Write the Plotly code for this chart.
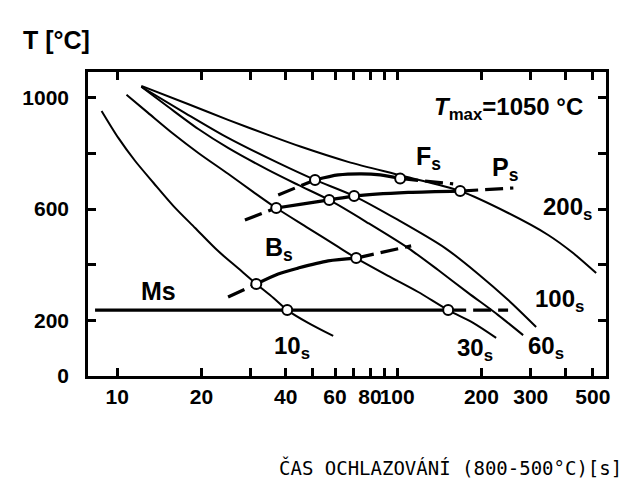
import numpy as np
import plotly.graph_objects as go

# ---- data ----
# cooling curves: time [s] (log axis) vs temperature [°C]
t_10s = [8.8, 10.1, 11.6, 13.5, 15.9, 19.0, 22.9, 27.0, 31.4, 36.1, 40.5, 48.1, 59.1]
T_10s = [953, 856, 773, 694, 611, 532, 450, 388, 331, 281, 237, 191, 144]

t_30s = [10.8, 12.9, 15.9, 19.5, 24.9, 30.6, 37.0, 48.1, 61.6, 71.4, 92.9, 118.9, 152.1, 186.8, 225.7]
T_30s = [1011, 946, 870, 802, 727, 662, 604, 532, 464, 424, 360, 302, 237, 191, 137]

t_60s = [12.2, 15.2, 19.5, 24.9, 34.6, 44.3, 57.2, 78.8, 109.5, 140.1, 179.3, 229.5, 281.8]
T_60s = [1040, 968, 888, 820, 741, 687, 633, 550, 460, 381, 299, 219, 147]

t_100s = [12.2, 17.2, 24.9, 37.6, 50.9, 70.2, 100.8, 148.4, 194.7, 249.2, 313.6]
T_100s = [1040, 950, 856, 766, 705, 647, 561, 460, 367, 273, 176]

t_200s = [12.2, 17.9, 24.9, 34.6, 45.4, 66.8, 105.1, 167.9, 249.2, 346.2, 425, 513.7]
T_200s = [1043, 978, 921, 867, 824, 770, 719, 665, 586, 507, 442, 370]

# transformation start lines
Fs_dash1_t = [37.6, 50.9];                    Fs_dash1_T = [651, 705]
Fs_t = [50.9, 61.6, 74.4, 87.0, 102.5];       Fs_T = [705, 723, 727, 723, 710]
Fs_dash2_t = [102.5, 158.5];                  Fs_dash2_T = [710, 691]

Ps_dash1_t = [28.6, 37.0];                    Ps_dash1_T = [561, 604]
Ps_t = [37.0, 45.0, 57.2, 70.2, 109.5, 167.9]; Ps_T = [604, 617, 633, 647, 660, 665]
Ps_dash2_t = [167.9, 260.0];                  Ps_dash2_T = [665, 676]

Bs_dash1_t = [24.9, 31.4];                    Bs_dash1_T = [284, 331]
Bs_t = [31.4, 37.6, 44.3, 56.7, 71.4];        Bs_T = [331, 367, 388, 414, 424]
Bs_dash2_t = [71.4, 112.2];                   Bs_dash2_T = [424, 468]

Ms_t = [8.34, 152.1];                         Ms_T = [237, 237]
Ms_dash_t = [152.1, 249.0];                   Ms_dash_T = [237, 237]

# measured intersection points (open circles)
pts_t = [50.9, 102.5, 37.0, 57.2, 70.2, 167.9, 31.4, 71.4, 40.5, 152.1]
pts_T = [705, 710, 604, 633, 647, 665, 331, 424, 237, 237]

x_tickvals = [10, 20, 30, 40, 50, 60, 70, 80, 90, 100, 200, 300, 400, 500]
x_ticktext = ["10", "20", "", "40", "", "60", "", "80", "", "100", "200", "300", "", "500"]
y_tickvals = [0, 200, 400, 600, 800, 1000]
y_ticktext = ["0", "200", "", "600", "", "1000"]

# ---- figure ----
FONT = "Liberation Sans, Arial, sans-serif"
fig = go.Figure()

def add_line(t, T, width, dash=None, spline=True):
    fig.add_trace(go.Scatter(
        x=t, y=T, mode="lines",
        line=dict(color="black", width=width, dash=dash,
                  shape="spline" if spline else "linear", smoothing=0.8),
        hoverinfo="skip", showlegend=False))

for t, T in [(t_10s, T_10s), (t_30s, T_30s), (t_60s, T_60s), (t_100s, T_100s), (t_200s, T_200s)]:
    add_line(t, T, 2)

DASH = "18px,7px"
add_line(Fs_dash1_t, Fs_dash1_T, 3.2, DASH, False)
add_line(Fs_t, Fs_T, 3.2)
add_line(Fs_dash2_t, Fs_dash2_T, 3.2, DASH, False)
add_line(Ps_dash1_t, Ps_dash1_T, 3.2, DASH, False)
add_line(Ps_t, Ps_T, 3.2)
add_line(Ps_dash2_t, Ps_dash2_T, 3.2, DASH, False)
add_line(Bs_dash1_t, Bs_dash1_T, 3.2, DASH, False)
add_line(Bs_t, Bs_T, 3.2)
add_line(Bs_dash2_t, Bs_dash2_T, 3.2, DASH, False)
add_line(Ms_t, Ms_T, 3.2, None, False)
add_line(Ms_dash_t, Ms_dash_T, 3.2, DASH, False)

fig.add_trace(go.Scatter(
    x=pts_t, y=pts_T, mode="markers",
    marker=dict(symbol="circle", size=10, color="white", line=dict(color="black", width=2)),
    hoverinfo="skip", showlegend=False))

def lab(text, t, T, size=24, **kw):
    fig.add_annotation(x=np.log10(t), y=T, xref="x", yref="y", text=text, showarrow=False,
                       font=dict(family=FONT, size=size, color="black", weight="bold"), **kw)

lab("F<sub>s</sub>", 129, 784, size=25)
lab("P<sub>s</sub>", 243, 745, size=25)
lab("200<sub>s</sub>", 405, 604)
lab("100<sub>s</sub>", 380, 273)
lab("60<sub>s</sub>", 340, 101)
lab("30<sub>s</sub>", 190, 94)
lab("10<sub>s</sub>", 42, 101)
lab("B<sub>s</sub>", 38, 455, size=25)
lab("Ms", 14.0, 306, size=25)
lab("<i>T</i><sub>max</sub>=1050 °C", 250, 960, size=24)

fig.add_annotation(x=-0.13, y=1.105, xref="paper", yref="paper", xanchor="left", yanchor="middle",
                   text="T [°C]", showarrow=False,
                   font=dict(family=FONT, size=25, color="black", weight="bold"))
fig.add_annotation(x=0.70, y=-0.30, xref="paper", yref="paper", xanchor="center", yanchor="middle",
                   text="ČAS OCHLAZOVÁNÍ (800-500°C)[s]", showarrow=False,
                   font=dict(family="DejaVu Sans Mono, Liberation Mono, monospace", size=19, color="black"))

axis_common = dict(showline=True, linecolor="black", linewidth=2.5, mirror="ticks",
                   ticks="inside", tickcolor="black", tickwidth=2.5, showgrid=False, zeroline=False,
                   automargin=False, tickangle=0,
                   tickfont=dict(family=FONT, size=21, color="black", weight="bold"))

fig.update_xaxes(type="log", range=[np.log10(7.87), np.log10(557)], tickmode="array",
                 tickvals=x_tickvals, ticktext=x_ticktext, ticklen=8, **axis_common)
fig.update_yaxes(range=[0, 1093], tickmode="array", tickvals=y_tickvals, ticktext=y_ticktext,
                 ticklen=8, ticklabelstandoff=12, **axis_common)

fig.update_layout(width=630, height=481, margin=dict(l=80, r=32, t=64, b=113),
                  plot_bgcolor="white", paper_bgcolor="white")

fig.write_html("out.html")
